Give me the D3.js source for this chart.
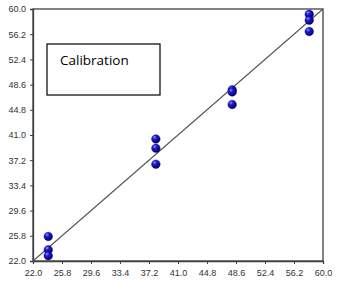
<!DOCTYPE html>
<html><head><meta charset="utf-8">
<script src="https://cdn.jsdelivr.net/npm/d3@7"></script>
<style>body{margin:0;background:#fff}svg{display:block}</style>
</head><body>
<script>
const tickValues = [22.0, 25.8, 29.6, 33.4, 37.2, 41.0, 44.8, 48.6, 52.4, 56.2, 60.0];
const measuredX = [24.0, 24.0, 24.0, 38.1, 38.1, 38.1, 48.1, 48.1, 48.1, 58.2, 58.2, 58.2];
const predictedY = [25.7, 23.7, 22.8, 40.4, 39.0, 36.6, 47.8, 47.5, 45.6, 59.2, 58.3, 56.6];
const legendLabel = "Calibration";

const W = 347, H = 287;
const m = {l: 33, r: 24, t: 9, b: 26};
const svg = d3.select("body").append("svg").attr("width", W).attr("height", H);
const x = d3.scaleLinear().domain([22, 60]).range([m.l, W - m.r]);
const y = d3.scaleLinear().domain([22, 60]).range([H - m.b, m.t]);

const defs = svg.append("defs");
const g = defs.append("radialGradient").attr("id", "ball").attr("cx", "35%").attr("cy", "30%").attr("r", "70%");
g.append("stop").attr("offset", "0%").attr("stop-color", "#8a8aff");
g.append("stop").attr("offset", "35%").attr("stop-color", "#1c1cd0");
g.append("stop").attr("offset", "100%").attr("stop-color", "#000070");

// frame
svg.append("rect").attr("x", x(22)).attr("y", y(60)).attr("width", x(60) - x(22)).attr("height", y(22) - y(60))
  .attr("fill", "none").attr("stroke", "#404040").attr("stroke-width", 1.3);

const fmt = d3.format(".1f");
const ax = svg.append("g").attr("transform", `translate(0,${y(22)})`)
  .call(d3.axisBottom(x).tickValues(tickValues).tickFormat(fmt).tickSize(3).tickPadding(6));
const ay = svg.append("g").attr("transform", `translate(${x(22)},0)`)
  .call(d3.axisLeft(y).tickValues(tickValues).tickFormat(fmt).tickSize(3).tickPadding(4));
[ax, ay].forEach(a => {
  a.select(".domain").attr("stroke", "#404040").attr("stroke-width", 1.3);
  a.selectAll(".tick line").attr("stroke", "#404040");
  a.selectAll("text").attr("font-family", "Liberation Sans, Arial, sans-serif").attr("font-size", 9).attr("fill", "#333");
});

// 1:1 line
svg.append("line").attr("x1", x(22)).attr("y1", y(22)).attr("x2", x(60)).attr("y2", y(60))
  .attr("stroke", "#555").attr("stroke-width", 1.1);

// points
svg.selectAll("circle.pt").data(measuredX.map((d, i) => [d, predictedY[i]])).join("circle")
  .attr("class", "pt").attr("cx", d => x(d[0])).attr("cy", d => y(d[1])).attr("r", 4.3)
  .attr("fill", "url(#ball)").attr("stroke", "#000060").attr("stroke-width", 0.4);

// legend box
svg.append("rect").attr("x", 47).attr("y", 44).attr("width", 113).attr("height", 51)
  .attr("fill", "#fff").attr("stroke", "#000").attr("stroke-width", 1.2);
svg.append("text").attr("x", 60).attr("y", 65).text(legendLabel)
  .attr("font-family", "Open Sans, Noto Sans, sans-serif").attr("font-size", 13.5).attr("fill", "#000");
</script>
</body></html>
